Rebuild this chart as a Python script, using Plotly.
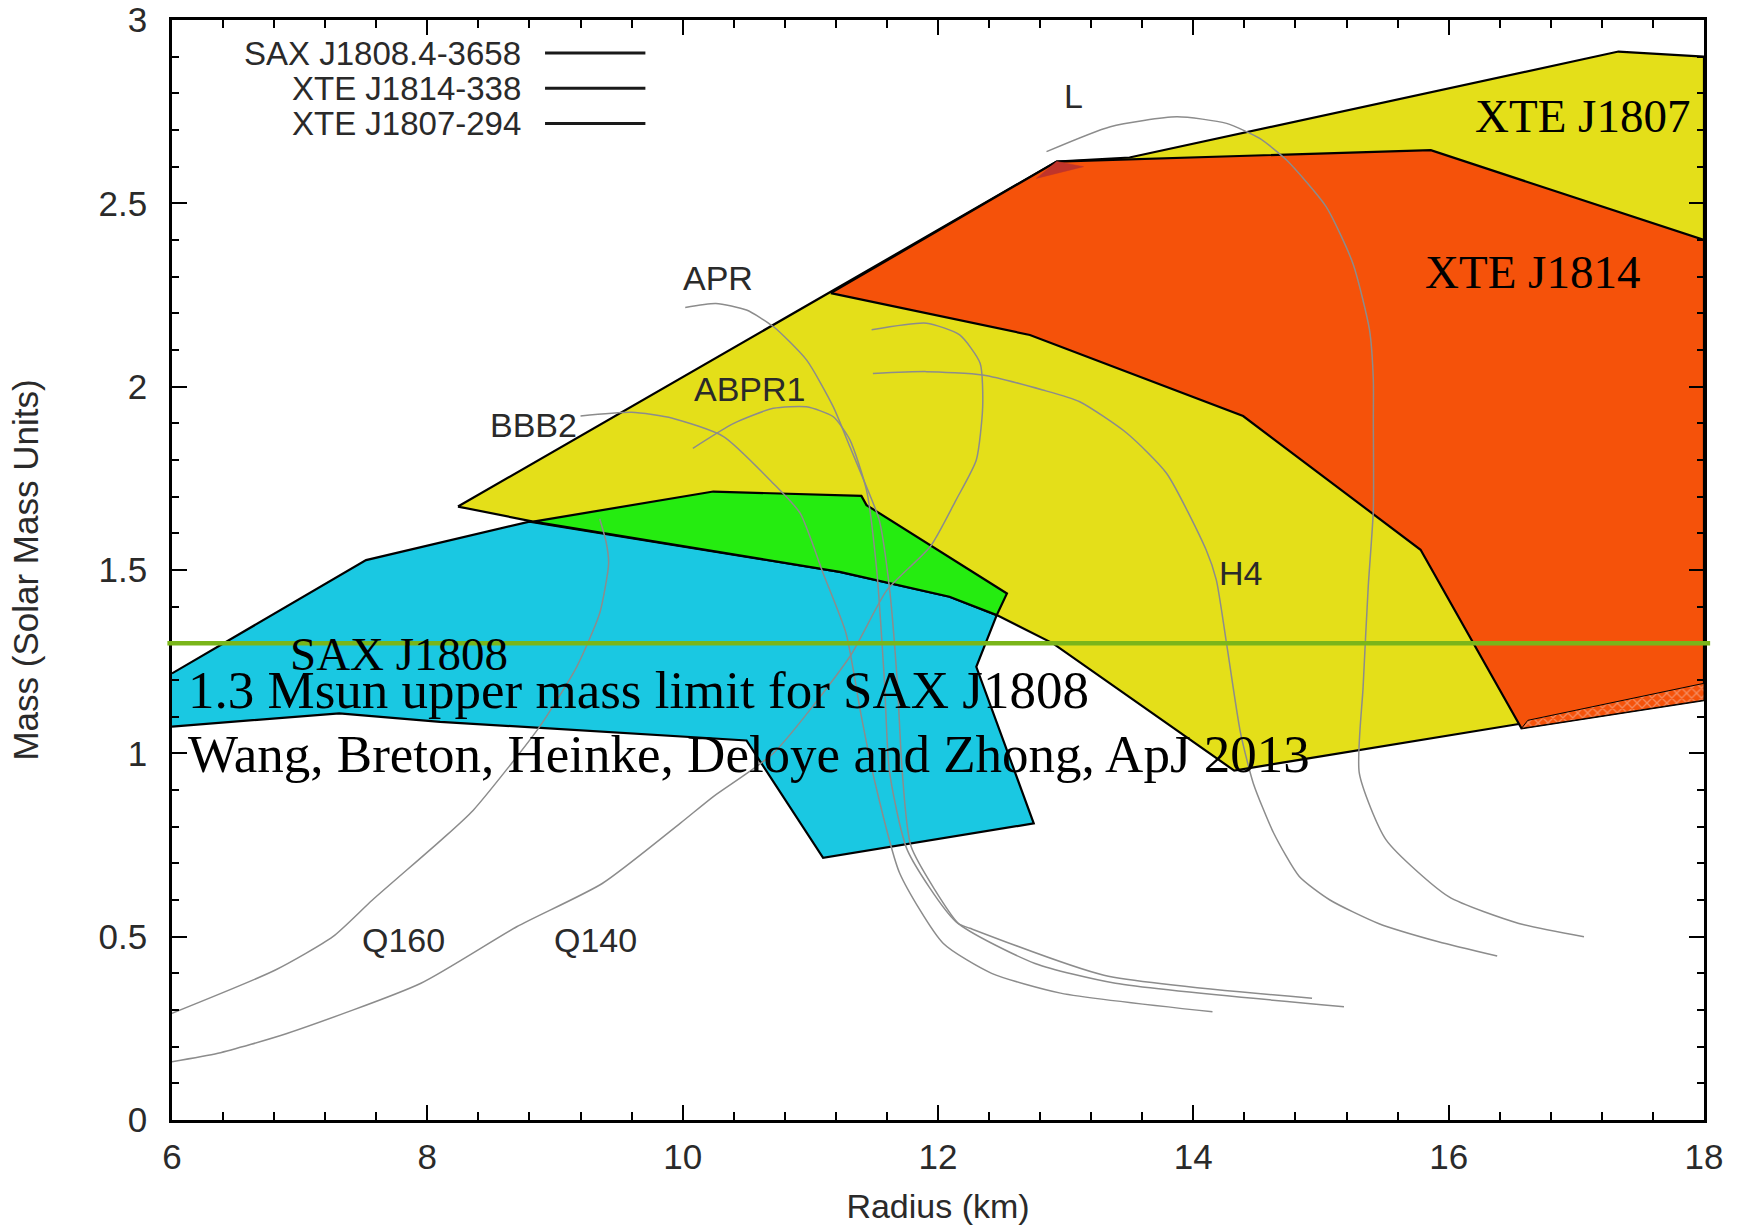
import plotly.graph_objects as go

# ---------------- data (radius km, mass Msun) ----------------
YELLOW_R = [8.24, 12.93, 13.5, 17.33, 18.0, 18.0, 16.55, 14.32, 12.90, 12.46, 12.09, 11.23, 8.83]
YELLOW_M = [1.673, 2.614, 2.625, 2.914, 2.90, 1.15, 1.08, 0.953, 1.30, 1.377, 1.427, 1.495, 1.632]

RED_R = [11.16, 12.93, 15.86, 18.0, 18.0, 16.57, 15.78, 14.39, 12.72]
RED_M = [2.255, 2.614, 2.645, 2.40, 1.145, 1.068, 1.555, 1.92, 2.141]

RED_BAND_R = [16.57, 18.0, 18.0, 16.62]
RED_BAND_M = [1.068, 1.145, 1.191, 1.09]

RED_CORNER_R = [12.77, 12.93, 13.14]
RED_CORNER_M = [2.568, 2.614, 2.60]

CYAN_R = [6.0, 7.52, 8.80, 11.23, 12.09, 12.46, 12.30, 12.75, 11.10, 10.50, 8.10, 7.31, 6.0]
CYAN_M = [1.218, 1.527, 1.632, 1.495, 1.427, 1.377, 1.236, 0.809, 0.715, 1.035, 1.086, 1.109, 1.073]

GREEN_R = [8.83, 10.24, 11.40, 11.44, 12.54, 12.46, 12.09, 11.23]
GREEN_M = [1.632, 1.714, 1.702, 1.677, 1.436, 1.377, 1.427, 1.495]

L_R = [12.85, 13.35, 13.87, 14.26, 14.52, 14.73, 15.04, 15.25, 15.38, 15.41, 15.41, 15.41, 15.37, 15.33, 15.30, 15.51, 16.0, 16.55, 17.06]
L_M = [2.641, 2.709, 2.736, 2.718, 2.677, 2.618, 2.491, 2.336, 2.155, 2.018, 1.909, 1.664, 1.455, 1.182, 0.946, 0.764, 0.609, 0.536, 0.50]

H4_R = [11.49, 11.91, 12.35, 12.82, 13.11, 13.48, 13.79, 14.10, 14.18, 14.26, 14.37, 14.47, 14.63, 14.83, 15.07, 15.45, 15.92, 16.38]
H4_M = [2.036, 2.041, 2.032, 1.991, 1.959, 1.873, 1.764, 1.555, 1.473, 1.30, 1.055, 0.918, 0.782, 0.664, 0.60, 0.536, 0.486, 0.447]

APR_R = [10.02, 10.26, 10.50, 10.71, 10.97, 11.18, 11.31, 11.44, 11.54, 11.62, 11.68, 11.72, 11.79, 12.16, 12.25, 13.30, 14.93]
APR_M = [2.216, 2.227, 2.209, 2.164, 2.073, 1.945, 1.836, 1.727, 1.636, 1.45, 1.2, 0.95, 0.745, 0.536, 0.523, 0.395, 0.332]

ABPR1_R = [10.08, 10.40, 10.71, 10.97, 11.18, 11.31, 11.44, 11.52, 11.58, 11.62, 11.76, 12.14, 12.76, 13.39, 15.18]
ABPR1_M = [1.832, 1.90, 1.941, 1.945, 1.918, 1.855, 1.718, 1.50, 1.20, 0.95, 0.736, 0.541, 0.427, 0.373, 0.309]

BBB2_R = [9.20, 9.60, 9.92, 10.32, 10.71, 10.92, 11.10, 11.28, 11.40, 11.50, 11.70, 12.04, 12.42, 12.96, 14.15]
BBB2_M = [1.92, 1.93, 1.914, 1.864, 1.736, 1.655, 1.491, 1.327, 1.10, 0.93, 0.673, 0.482, 0.40, 0.346, 0.295]

Q140_R = [6.0, 6.36, 6.90, 7.95, 8.70, 9.37, 9.98, 10.24, 10.71, 11.31, 11.60, 11.94, 12.14, 12.30, 12.35, 12.33, 12.17, 11.91, 11.48]
Q140_M = [0.159, 0.182, 0.236, 0.373, 0.527, 0.645, 0.809, 0.882, 1.0, 1.264, 1.445, 1.564, 1.69, 1.80, 1.945, 2.064, 2.141, 2.173, 2.155]

Q160_R = [6.0, 6.81, 7.26, 7.57, 8.11, 8.36, 8.88, 9.17, 9.35, 9.42, 9.40, 9.35]
Q160_M = [0.291, 0.409, 0.50, 0.60, 0.764, 0.845, 1.073, 1.236, 1.382, 1.518, 1.577, 1.64]

MASS_LIMIT = 1.3
LEGEND_NAMES = ["SAX J1808.4-3658", "XTE J1814-338", "XTE J1807-294"]
X_TICKS = [6, 8, 10, 12, 14, 16, 18]
Y_TICKS = [0, 0.5, 1, 1.5, 2, 2.5, 3]
Y_TICK_TEXT = ["0", "0.5", "1", "1.5", "2", "2.5", "3"]

# ---------------- colours ----------------
C_YELLOW = "#e4df19"
C_RED = "#f5520a"
C_CYAN = "#1ac8e2"
C_GREEN = "#25ec10"
C_LIMIT = "#7ab51a"
C_CURVE = "#8c8c8c"

fig = go.Figure()


def poly(r, m, color, width=2.2, line_color="black", pattern=None, closed_outline=True):
    kw = {}
    if pattern:
        kw["fillpattern"] = pattern
    fig.add_trace(go.Scatter(
        x=r + [r[0]], y=m + [m[0]], mode="lines", fill="toself",
        fillcolor=color, line=dict(color=line_color, width=width if closed_outline else 0),
        hoverinfo="skip", showlegend=False, **kw))
    if not closed_outline:
        fig.add_trace(go.Scatter(x=r, y=m, mode="lines",
                                 line=dict(color=line_color, width=width),
                                 hoverinfo="skip", showlegend=False))


poly(YELLOW_R, YELLOW_M, C_YELLOW)
poly(RED_R, RED_M, C_RED)
poly(RED_BAND_R, RED_BAND_M, C_RED, width=1,
     pattern=dict(shape="x", fgcolor="#f3c2b0", bgcolor=C_RED, size=7, solidity=0.35))
poly(RED_CORNER_R, RED_CORNER_M, "#c0342a", width=0.5, line_color="#c0342a")
poly(CYAN_R, CYAN_M, C_CYAN, closed_outline=False)
poly(GREEN_R, GREEN_M, C_GREEN)

for r, m in [(L_R, L_M), (H4_R, H4_M), (APR_R, APR_M), (ABPR1_R, ABPR1_M),
             (BBB2_R, BBB2_M), (Q140_R, Q140_M), (Q160_R, Q160_M)]:
    fig.add_trace(go.Scatter(x=r, y=m, mode="lines",
                             line=dict(color=C_CURVE, width=1.5, shape="spline", smoothing=0.6),
                             hoverinfo="skip", showlegend=False))

SANS = "Liberation Sans, Arial, Helvetica, sans-serif"
SERIF = "Liberation Serif, Times New Roman, serif"

annotations = []
# EOS labels
for txt, x, y in [("L", 13.06, 2.794), ("APR", 10.28, 2.296), ("ABPR1", 10.53, 1.995),
                  ("BBB2", 8.83, 1.895), ("H4", 14.37, 1.492), ("Q160", 7.81, 0.491),
                  ("Q140", 9.32, 0.491)]:
    annotations.append(dict(x=x, y=y, xref="x", yref="y", text=txt, showarrow=False,
                            xanchor="center", yanchor="middle",
                            font=dict(family=SANS, size=34, color="#2a2a2a")))

# big serif labels
for txt, x, y, size in [("XTE J1807", 16.19, 2.737, 47), ("XTE J1814", 15.80, 2.314, 47),
                        ("SAX J1808", 6.91, 1.271, 47),
                        ("1.3 Msun upper mass limit for SAX J1808", 6.11, 1.174, 53),
                        ("Wang, Breton, Heinke, Deloye and Zhong, ApJ 2013", 6.11, 0.997, 53)]:
    annotations.append(dict(x=x, y=y, xref="x", yref="y", text=txt, showarrow=False,
                            xanchor="left", yanchor="middle",
                            font=dict(family=SERIF, size=size, color="black")))

# manual legend (text then line sample)
shapes = []
leg_y = [0.970, 0.938, 0.906]
for name, yy in zip(LEGEND_NAMES, leg_y):
    annotations.append(dict(x=0.229, y=yy, xref="paper", yref="paper", text=name,
                            showarrow=False, xanchor="right", yanchor="middle",
                            font=dict(family=SANS, size=33, color="#2a2a2a")))
    shapes.append(dict(type="line", xref="paper", yref="paper", x0=0.2435, x1=0.309,
                       y0=yy, y1=yy, line=dict(color="#1a1a1a", width=3)))

# 1.3 Msun limit line
shapes.append(dict(type="line", xref="paper", yref="y", x0=-0.003, x1=1.004,
                   y0=MASS_LIMIT, y1=MASS_LIMIT, line=dict(color=C_LIMIT, width=4.5),
                   layer="above"))

axis_common = dict(showline=True, linecolor="black", linewidth=2.5, mirror="allticks",
                   ticks="inside", ticklen=15, tickwidth=2, tickcolor="black",
                   showgrid=False, zeroline=False, automargin=False,
                   tickfont=dict(family=SANS, size=35, color="#2a2a2a"))

fig.update_layout(
    width=1744, height=1228,
    margin=dict(l=172, r=40, t=20, b=108),
    paper_bgcolor="white", plot_bgcolor="white",
    showlegend=False,
    annotations=annotations, shapes=shapes,
    xaxis=dict(range=[6, 18], tickvals=X_TICKS, ticktext=[str(v) for v in X_TICKS],
               minor=dict(dtick=0.4, tick0=6, ticks="inside", ticklen=8, tickwidth=1.5,
                          tickcolor="black", showgrid=False),
               ticklabelstandoff=4,
               title=dict(text="Radius (km)", standoff=20,
                          font=dict(family=SANS, size=34, color="#2a2a2a")),
               **axis_common),
    yaxis=dict(range=[0, 3], tickvals=Y_TICKS, ticktext=Y_TICK_TEXT,
               minor=dict(dtick=0.1, tick0=0, ticks="inside", ticklen=7, tickwidth=1.5,
                          tickcolor="black", showgrid=False),
               ticklabelstandoff=15,
               title=dict(text="Mass (Solar Mass Units)", standoff=50,
                          font=dict(family=SANS, size=35, color="#2a2a2a")),
               **axis_common),
)

fig.write_html("out.html")
